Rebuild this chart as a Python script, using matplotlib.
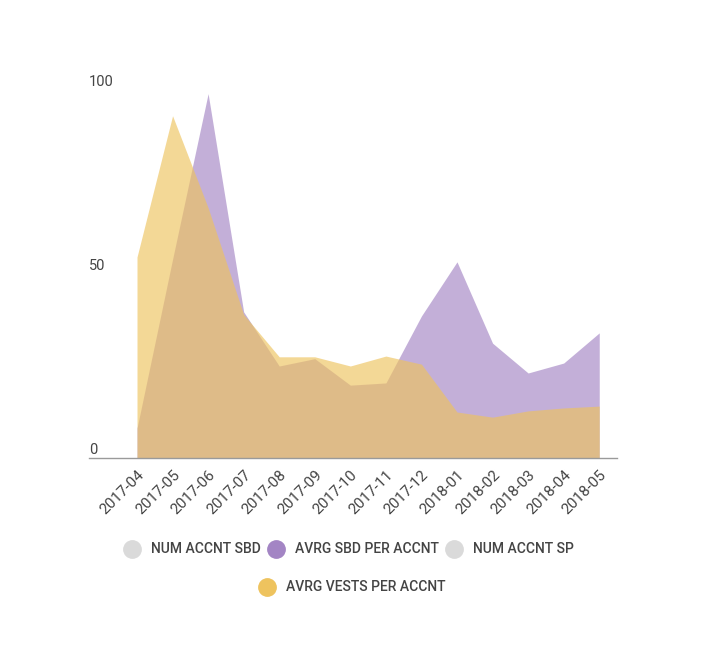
import matplotlib.pyplot as plt
from matplotlib.lines import Line2D

plt.rcParams['font.family'] = ['Roboto', 'DejaVu Sans']

# monthly data
months = ["2017-04", "2017-05", "2017-06", "2017-07", "2017-08", "2017-09", "2017-10",
          "2017-11", "2017-12", "2018-01", "2018-02", "2018-03", "2018-04", "2018-05"]
avrg_sbd = [8.1, 54, 99, 39.7, 25, 27, 19.8, 20.4, 38.6, 53.3, 31.2, 23.1, 25.8, 34]
avrg_vests = [54.6, 93, 68, 39, 27.5, 27.5, 25, 27.7, 25.5, 12.5, 11.1, 12.8, 13.6, 14.1]
y_ticks = [0, 50, 100]

purple = "#A385C4"
yellow = "#EEC35E"
gray = "#DADADA"
text_col = "#444444"

fig = plt.figure(figsize=(7.12, 6.66), dpi=100)
ax = fig.add_axes([0.125, 0.3123, 0.7416, 0.5526])

x = list(range(len(months)))
ax.fill_between(x, avrg_sbd, color=purple, alpha=0.65, linewidth=0)
ax.fill_between(x, avrg_vests, color=yellow, alpha=0.65, linewidth=0)

ax.set_xlim(-1.35, 13.5)
ax.set_ylim(0, 100)
for s in ["top", "right", "left"]:
    ax.spines[s].set_visible(False)
ax.spines["bottom"].set_color("#9a9a9a")
ax.spines["bottom"].set_linewidth(1)

ax.set_xticks(x)
ax.set_xticklabels(months, rotation=45, ha="right", rotation_mode="anchor",
                   fontsize=11, color=text_col)
ax.tick_params(axis="x", length=0, pad=7)
ax.set_yticks([])

for t in y_ticks:
    ax.text(-1.35, t + 2.2, str(t), fontsize=10.5, color=text_col, ha="left", va="center")

def h(c):
    return Line2D([], [], marker="o", linestyle="", markersize=12.5,
                  markerfacecolor=c, markeredgecolor=c)

leg1 = fig.legend([h(gray), h(purple), h(gray)],
                  ["NUM ACCNT SBD", "AVRG SBD PER ACCNT", "NUM ACCNT SP"],
                  loc="center", bbox_to_anchor=(0.49, 0.175), ncol=3, frameon=False,
                  prop={"size": 10, "weight": "medium"},
                  handletextpad=0.75, columnspacing=0.5, handlelength=1.2)
leg2 = fig.legend([h(yellow)], ["AVRG VESTS PER ACCNT"],
                  loc="center", bbox_to_anchor=(0.495, 0.118), frameon=False,
                  prop={"size": 10, "weight": "medium"},
                  handletextpad=0.75, handlelength=1.2)
for leg in (leg1, leg2):
    for t in leg.get_texts():
        t.set_color(text_col)

fig.savefig("out.png", dpi=100)
